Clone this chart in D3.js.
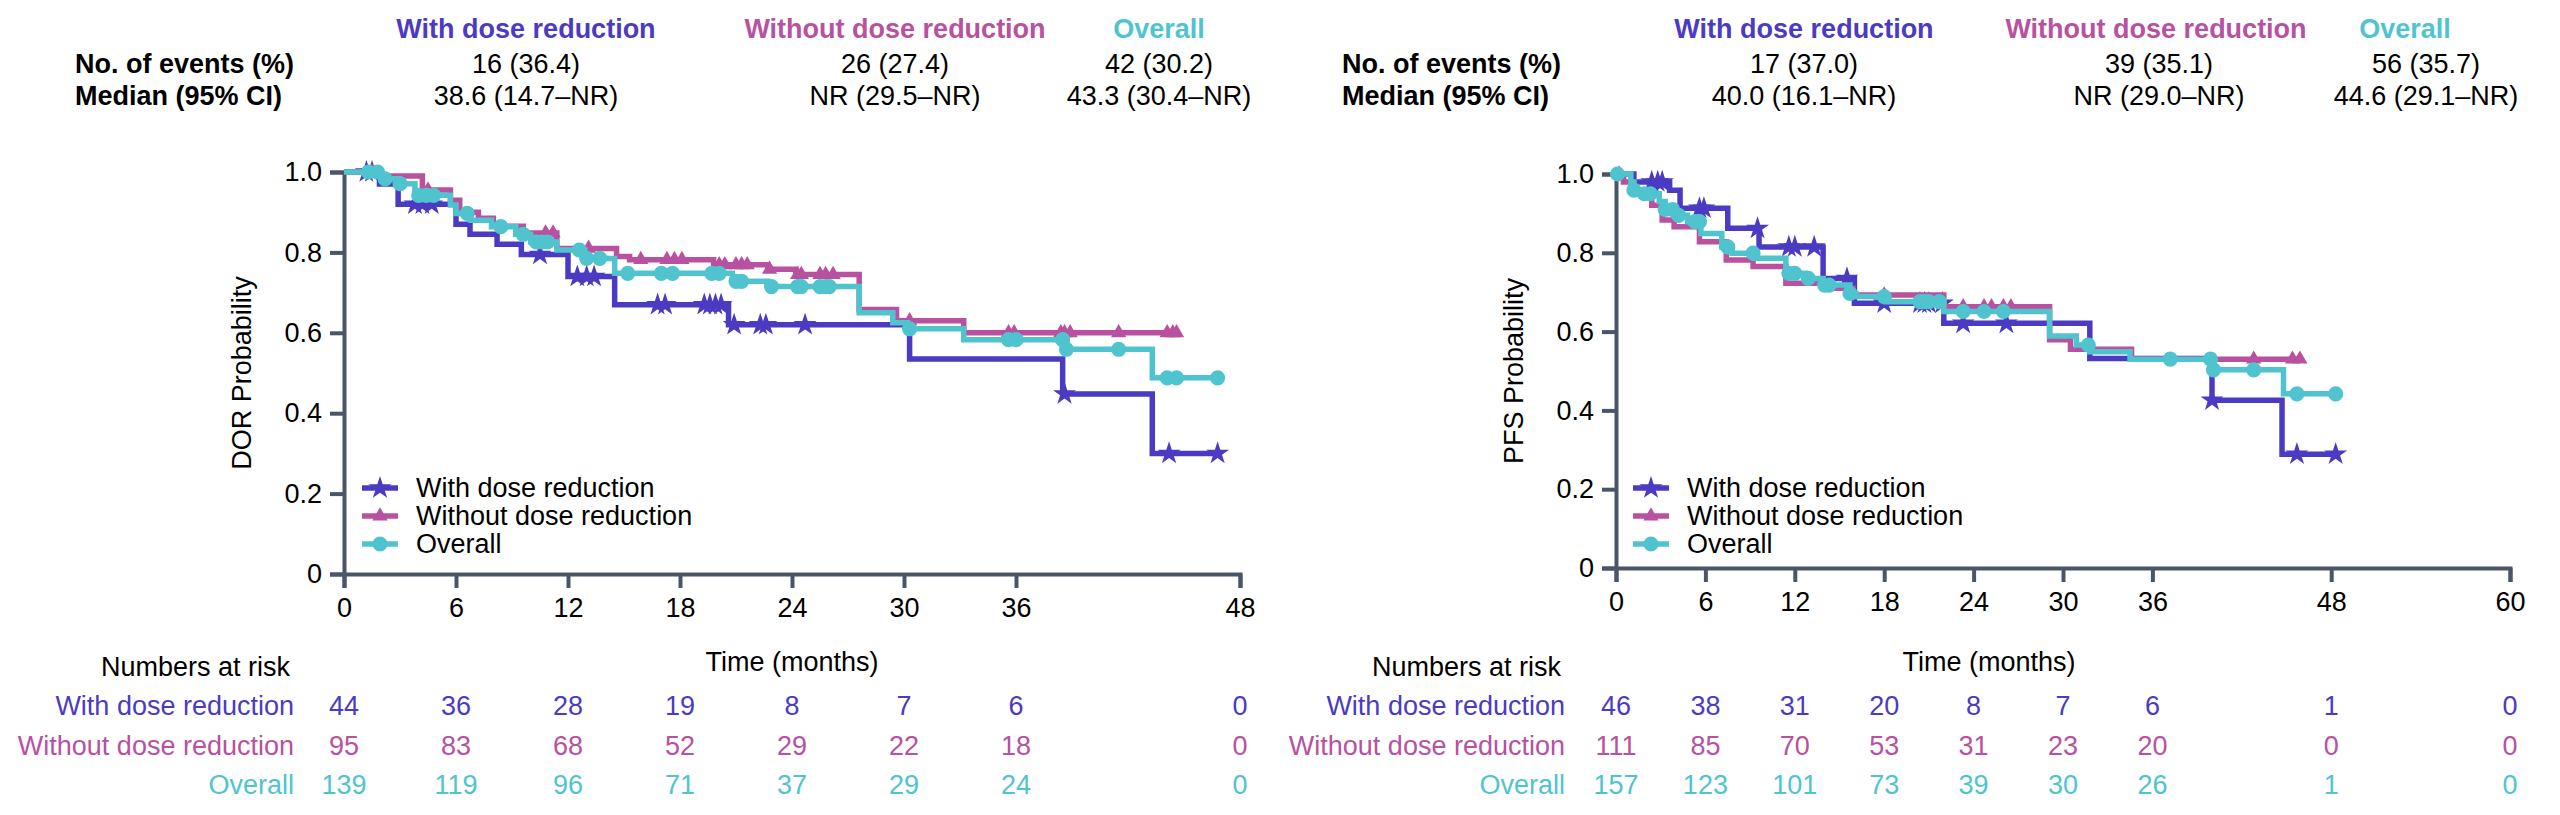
<!DOCTYPE html>
<html>
<head>
<meta charset="utf-8">
<script src="https://cdn.jsdelivr.net/npm/d3@7"></script>
<style>
  body { margin: 0; background: #fff; }
  svg text { font-family: "Liberation Sans", Arial, sans-serif; }
</style>
</head>
<body>
<svg id="chart" width="2560" height="815"></svg>
<script>
// ---- data ----
var groups = ["With dose reduction", "Without dose reduction", "Overall"];
var colors = ["#4b3bc3", "#b8519f", "#4fc4cf"];

var dorTicks = [0, 6, 12, 18, 24, 30, 36, 48];
var pfsTicks = [0, 6, 12, 18, 24, 30, 36, 48, 60];
var probTicks = [0, 0.2, 0.4, 0.6, 0.8, 1.0];

var dorEvents = ["16 (36.4)", "26 (27.4)", "42 (30.2)"];
var dorMedians = ["38.6 (14.7\u2013NR)", "NR (29.5\u2013NR)", "43.3 (30.4\u2013NR)"];
var pfsEvents = ["17 (37.0)", "39 (35.1)", "56 (35.7)"];
var pfsMedians = ["40.0 (16.1\u2013NR)", "NR (29.0\u2013NR)", "44.6 (29.1\u2013NR)"];

var dorRiskWith = [44, 36, 28, 19, 8, 7, 6, 0];
var dorRiskWithout = [95, 83, 68, 52, 29, 22, 18, 0];
var dorRiskOverall = [139, 119, 96, 71, 37, 29, 24, 0];
var pfsRiskWith = [46, 38, 31, 20, 8, 7, 6, 1, 0];
var pfsRiskWithout = [111, 85, 70, 53, 31, 23, 20, 0, 0];
var pfsRiskOverall = [157, 123, 101, 73, 39, 30, 26, 1, 0];

// KM steps [time, survival] and censor times
var dorWithSteps = [[0, 1], [1.9, 0.97], [2.9, 0.92], [6.0, 0.87], [6.75, 0.845], [8.2, 0.82], [9.5, 0.795],
  [12.0, 0.74], [14.5, 0.67], [20.6, 0.62], [30.3, 0.535], [38.5, 0.448], [43.3, 0.30]];
var dorWithCensor = [1.2, 1.5, 3.8, 4.2, 4.7, 10.5, 12.5, 13.0, 13.4, 16.8, 17.2, 19.3, 19.6, 19.9, 20.2,
  20.9, 22.3, 22.6, 24.7, 38.6, 44.2, 46.8];
var dorWithoutSteps = [[0, 1], [2.0, 0.99], [4.2, 0.955], [5.7, 0.93], [6.2, 0.9], [7.2, 0.885], [8.0, 0.865],
  [9.6, 0.848], [11.4, 0.81], [14.6, 0.79], [15.3, 0.782], [19.8, 0.769], [22.7, 0.758], [24.2, 0.745],
  [27.6, 0.658], [29.6, 0.63], [33.2, 0.6]];
var dorWithoutCensor = [1.5, 4.5, 10.8, 11.2, 13.1, 15.9, 17.3, 17.7, 18.1, 20.1, 20.4, 21.0, 21.3, 21.6,
  22.8, 24.3, 24.5, 25.5, 25.8, 26.2, 30.3, 35.6, 35.9, 38.4, 38.6, 38.9, 41.5, 44.1, 44.4, 44.6];
var dorOverallSteps = [[0, 1], [2.0, 0.983], [2.9, 0.971], [3.8, 0.942], [5.7, 0.918], [6.0, 0.897], [6.8, 0.88],
  [7.9, 0.864], [9.2, 0.845], [10.0, 0.826], [11.4, 0.806], [12.9, 0.785], [14.5, 0.748], [20.8, 0.728],
  [22.7, 0.715], [27.6, 0.65], [29.4, 0.625], [30.2, 0.61], [33.2, 0.583], [38.6, 0.559], [43.3, 0.488]];
var dorOverallCensor = [1.3, 1.8, 2.2, 3.0, 4.0, 4.4, 4.8, 6.6, 8.4, 9.6, 10.3, 10.6, 10.9, 12.6, 13.0, 13.7,
  15.2, 17.0, 17.6, 19.7, 20.1, 21.0, 21.3, 22.9, 24.3, 24.5, 25.5, 25.8, 26.0, 30.3, 35.6, 36.0, 38.5,
  38.7, 41.5, 44.1, 44.6, 46.8];

var pfsWithSteps = [[0, 1], [1.2, 0.98], [3.6, 0.959], [4.3, 0.913], [7.5, 0.862], [9.6, 0.815], [13.9, 0.735],
  [16.0, 0.672], [22.0, 0.621], [31.8, 0.532], [40.0, 0.426], [44.7, 0.289]];
var pfsWithCensor = [2.4, 2.8, 3.1, 5.6, 5.9, 9.5, 11.6, 12.0, 13.3, 15.5, 18.0, 20.4, 20.7, 21.0, 21.9,
  23.3, 26.2, 40.0, 45.7, 48.3];
var pfsWithoutSteps = [[0, 1], [0.5, 0.98], [1.2, 0.951], [2.4, 0.921], [3.1, 0.883], [3.9, 0.866],
  [5.6, 0.828], [7.4, 0.782], [9.2, 0.765], [11.4, 0.723], [13.9, 0.71], [15.9, 0.693], [22.0, 0.663],
  [29.1, 0.579], [30.5, 0.555], [34.6, 0.53]];
var pfsWithoutCensor = [0.2, 18.0, 23.3, 24.7, 25.2, 26.0, 26.5, 42.8, 45.4, 45.9];
var pfsOverallSteps = [[0, 1], [1.0, 0.98], [1.2, 0.959], [1.7, 0.95], [2.9, 0.93], [3.3, 0.91], [4.0, 0.895],
  [4.8, 0.879], [5.7, 0.849], [7.1, 0.815], [7.8, 0.799], [9.3, 0.786], [11.4, 0.748], [12.7, 0.735],
  [13.9, 0.718], [15.7, 0.697], [16.1, 0.689], [18.1, 0.676], [22.0, 0.651], [29.1, 0.589], [30.9, 0.566],
  [31.8, 0.549], [34.5, 0.53], [40.0, 0.503], [44.8, 0.442]];
var pfsOverallCensor = [0.1, 1.2, 1.9, 2.3, 3.3, 3.8, 4.2, 5.3, 5.6, 7.5, 9.2, 11.6, 12.0, 12.9, 14.0, 14.3,
  15.7, 18.0, 20.4, 20.7, 21.0, 21.7, 23.3, 24.7, 26.0, 31.7, 37.2, 39.9, 40.1, 42.8, 45.7, 48.3];

// ---- drawing ----
var svg = d3.select("#chart");
var axisColor = "#4a5668";
var fs = 27;
var symbols = [
  d3.symbol().type(d3.symbolStar).size(165),
  d3.symbol().type(d3.symbolTriangle).size(100),
  d3.symbol().type(d3.symbolCircle).size(180)
];

function survAt(steps, t) {
  var s = steps[0][1];
  steps.forEach(function(d) { if (d[0] <= t) s = d[1]; });
  return s;
}

function drawPanel(p) {
  var g = svg.append("g");
  var x = d3.scaleLinear().domain([0, p.xMax]).range(p.xRange);
  var y = d3.scaleLinear().domain([0, 1]).range(p.yRange);

  // header table
  var head = g.append("g").style("font-size", fs + "px");
  head.append("text").attr("x", p.headLeft).attr("y", 73).attr("font-weight", "bold").text("No. of events (%)");
  head.append("text").attr("x", p.headLeft).attr("y", 105).attr("font-weight", "bold").text("Median (95% CI)");
  groups.forEach(function(name, i) {
    head.append("text").attr("x", p.headTitleX[i]).attr("y", 38).attr("text-anchor", "middle")
      .attr("font-weight", "bold").attr("fill", colors[i]).text(name);
    head.append("text").attr("x", p.headValX[i]).attr("y", 73).attr("text-anchor", "middle").text(p.events[i]);
    head.append("text").attr("x", p.headValX[i]).attr("y", 105).attr("text-anchor", "middle").text(p.medians[i]);
  });

  // axes
  var yAxis = g.append("g").attr("transform", "translate(" + p.xRange[0] + ",0)")
    .call(d3.axisLeft(y).tickValues(probTicks).tickSize(14).tickPadding(8)
      .tickFormat(function(d) { return d === 0 ? "0" : d3.format(".1f")(d); }));
  var xAxis = g.append("g").attr("transform", "translate(0," + p.yRange[0] + ")")
    .call(d3.axisBottom(x).tickValues(p.xTicks).tickSize(14).tickPadding(10));
  [xAxis, yAxis].forEach(function(a) {
    a.select(".domain").attr("stroke", axisColor).attr("stroke-width", 4);
    a.selectAll(".tick line").attr("stroke", axisColor).attr("stroke-width", 4);
    a.selectAll(".tick text").attr("fill", "#000").style("font-size", fs + "px")
      .style("font-family", "'Liberation Sans', Arial, sans-serif");
  });

  g.append("text").attr("transform", "translate(" + p.yTitleX + "," + (p.yRange[0] + p.yRange[1]) / 2 + ") rotate(-90)")
    .attr("text-anchor", "middle").style("font-size", fs + "px").text(p.yTitle);
  g.append("text").attr("x", p.timeX).attr("y", 671)
    .attr("text-anchor", "middle").style("font-size", fs + "px").text("Time (months)");

  // curves
  var line = d3.line().curve(d3.curveStepAfter)
    .x(function(d) { return x(d[0]); })
    .y(function(d) { return y(d[1]); });
  p.series.forEach(function(s, i) {
    var last = s.steps[s.steps.length - 1];
    var end = Math.max(last[0], d3.max(s.censor));
    var pts = s.steps.concat([[end, last[1]]]);
    g.append("path").datum(pts).attr("d", line).attr("fill", "none")
      .attr("stroke", colors[i]).attr("stroke-width", 5.5).attr("stroke-linejoin", "miter");
    g.append("g").selectAll("path").data(s.censor).enter().append("path")
      .attr("d", symbols[i])
      .attr("fill", colors[i])
      .attr("transform", function(t) { return "translate(" + x(t) + "," + y(survAt(s.steps, t)) + ")"; });
  });

  // legend
  var lg = g.append("g").style("font-size", fs + "px");
  groups.forEach(function(name, i) {
    var ly = 488 + i * 28;
    lg.append("line").attr("x1", p.legendX).attr("x2", p.legendX + 36).attr("y1", ly).attr("y2", ly)
      .attr("stroke", colors[i]).attr("stroke-width", 5.5);
    lg.append("path").attr("d", symbols[i]).attr("fill", colors[i])
      .attr("transform", "translate(" + (p.legendX + 18) + "," + ly + ")");
    lg.append("text").attr("x", p.legendX + 54).attr("y", ly + 9).text(name);
  });

  // numbers at risk
  var rk = g.append("g").style("font-size", fs + "px");
  rk.append("text").attr("x", p.riskTitleX).attr("y", 676).text("Numbers at risk");
  p.risk.forEach(function(row, i) {
    var ry = 715 + i * 39.5;
    rk.append("text").attr("x", p.riskLabelX).attr("y", ry).attr("text-anchor", "end")
      .attr("fill", colors[i]).text(groups[i]);
    rk.selectAll(null).data(row).enter().append("text")
      .attr("x", function(d, j) { return x(p.xTicks[j]); })
      .attr("y", ry).attr("text-anchor", "middle").attr("fill", colors[i])
      .text(function(d) { return d; });
  });
}

drawPanel({
  xMax: 48, xRange: [344, 1240], yRange: [574, 172], xTicks: dorTicks,
  yTitle: "DOR Probability", yTitleX: 251, timeX: 792,
  headLeft: 75, headTitleX: [526, 895, 1159], headValX: [526, 895, 1159],
  events: dorEvents, medians: dorMedians,
  legendX: 362, riskTitleX: 101, riskLabelX: 294,
  risk: [dorRiskWith, dorRiskWithout, dorRiskOverall],
  series: [
    { steps: dorWithSteps, censor: dorWithCensor },
    { steps: dorWithoutSteps, censor: dorWithoutCensor },
    { steps: dorOverallSteps, censor: dorOverallCensor }
  ]
});

drawPanel({
  xMax: 60, xRange: [1616, 2510], yRange: [568, 174], xTicks: pfsTicks,
  yTitle: "PFS Probability", yTitleX: 1523, timeX: 1989,
  headLeft: 1342, headTitleX: [1804, 2156, 2405], headValX: [1804, 2159, 2426],
  events: pfsEvents, medians: pfsMedians,
  legendX: 1633, riskTitleX: 1372, riskLabelX: 1565,
  risk: [pfsRiskWith, pfsRiskWithout, pfsRiskOverall],
  series: [
    { steps: pfsWithSteps, censor: pfsWithCensor },
    { steps: pfsWithoutSteps, censor: pfsWithoutCensor },
    { steps: pfsOverallSteps, censor: pfsOverallCensor }
  ]
});
</script>
</body>
</html>
